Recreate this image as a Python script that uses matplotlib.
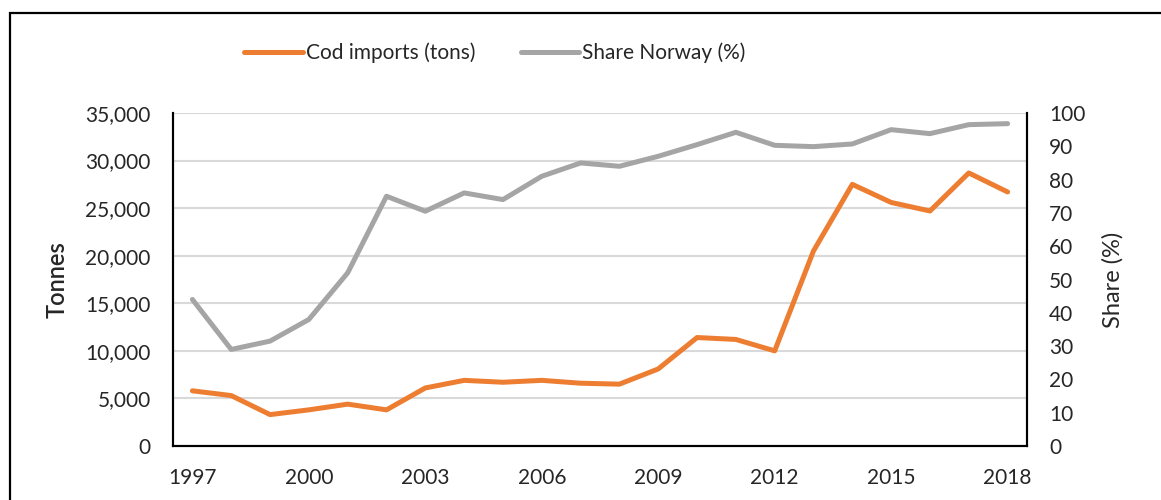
import matplotlib
matplotlib.use("Agg")
import matplotlib.pyplot as plt
from matplotlib.patches import Rectangle

years = list(range(1997, 2019))
cod_imports = [5800, 5300, 3300, 3800, 4400, 3800, 6100, 6900, 6700, 6900, 6600,
               6500, 8100, 11400, 11200, 10000, 20500, 27500, 25600, 24700, 28700, 26700]
share_norway = [44, 29, 31.5, 38, 52, 75, 70.5, 76, 74, 81, 85, 84, 87, 90.5, 94.2,
                90.3, 89.9, 90.7, 95, 93.8, 96.5, 96.8]
xtick_labels = ["1997", "2000", "2003", "2006", "2009", "2012", "2015", "2018"]

ORANGE = "#ED7D31"
GREY = "#A5A5A5"
TXT = "#262626"
plt.rcParams['font.family'] = ['Lato', 'DejaVu Sans']

fig = plt.figure(figsize=(11.61, 5.0), dpi=100)
fig.patches.append(Rectangle((10 / 1161, -0.1), 1.2, 1 - 13 / 500 + 0.1,
                             transform=fig.transFigure, fill=False,
                             edgecolor="black", linewidth=1.6))

ax = fig.add_axes([173 / 1161, 1 - 446 / 500, (1027 - 173) / 1161, (446 - 113) / 500])
ax2 = ax.twinx()

x = list(range(len(years)))
l1, = ax.plot(x, cod_imports, color=ORANGE, lw=3.6, solid_capstyle="round",
              label="Cod imports (tons)", zorder=3)
l2, = ax2.plot(x, share_norway, color=GREY, lw=3.6, solid_capstyle="round",
               label="Share Norway (%)", zorder=3)

ax.set_xlim(-0.5, len(years) - 0.5)
ax.set_ylim(0, 35000)
ax2.set_ylim(0, 100)
ax.set_yticks(range(0, 35001, 5000))
ax.set_yticklabels([f"{v:,}" for v in range(0, 35001, 5000)])
ax2.set_yticks(range(0, 101, 10))
tick_pos = [years.index(int(t)) for t in xtick_labels]
ax.set_xticks(tick_pos)
ax.set_xticklabels(xtick_labels)

ax.grid(axis="y", color="#D9D9D9", lw=1.5, zorder=0)
ax.set_axisbelow(True)
for a in (ax, ax2):
    a.spines["top"].set_visible(False)
    for s in ("left", "right", "bottom"):
        a.spines[s].set_linewidth(1.5)
        a.spines[s].set_color("black")
    a.tick_params(length=0, labelsize=15, colors=TXT)
ax.tick_params(axis="y", pad=16)
ax2.tick_params(axis="y", pad=16)
ax.tick_params(axis="x", pad=16)

ax.set_ylabel("Tonnes", fontsize=17, color=TXT, labelpad=12, fontweight="semibold")
ax2.set_ylabel("Share (%)", fontsize=17, color=TXT, labelpad=12, rotation=90)

fig.legend(handles=[l1, l2], loc="center", bbox_to_anchor=(495 / 1161, 1 - 53 / 500),
           ncol=2, frameon=False, fontsize=15, handlelength=2.8, handletextpad=0.15,
           columnspacing=2.2, labelcolor=TXT)

fig.savefig("out.png", dpi=100)
